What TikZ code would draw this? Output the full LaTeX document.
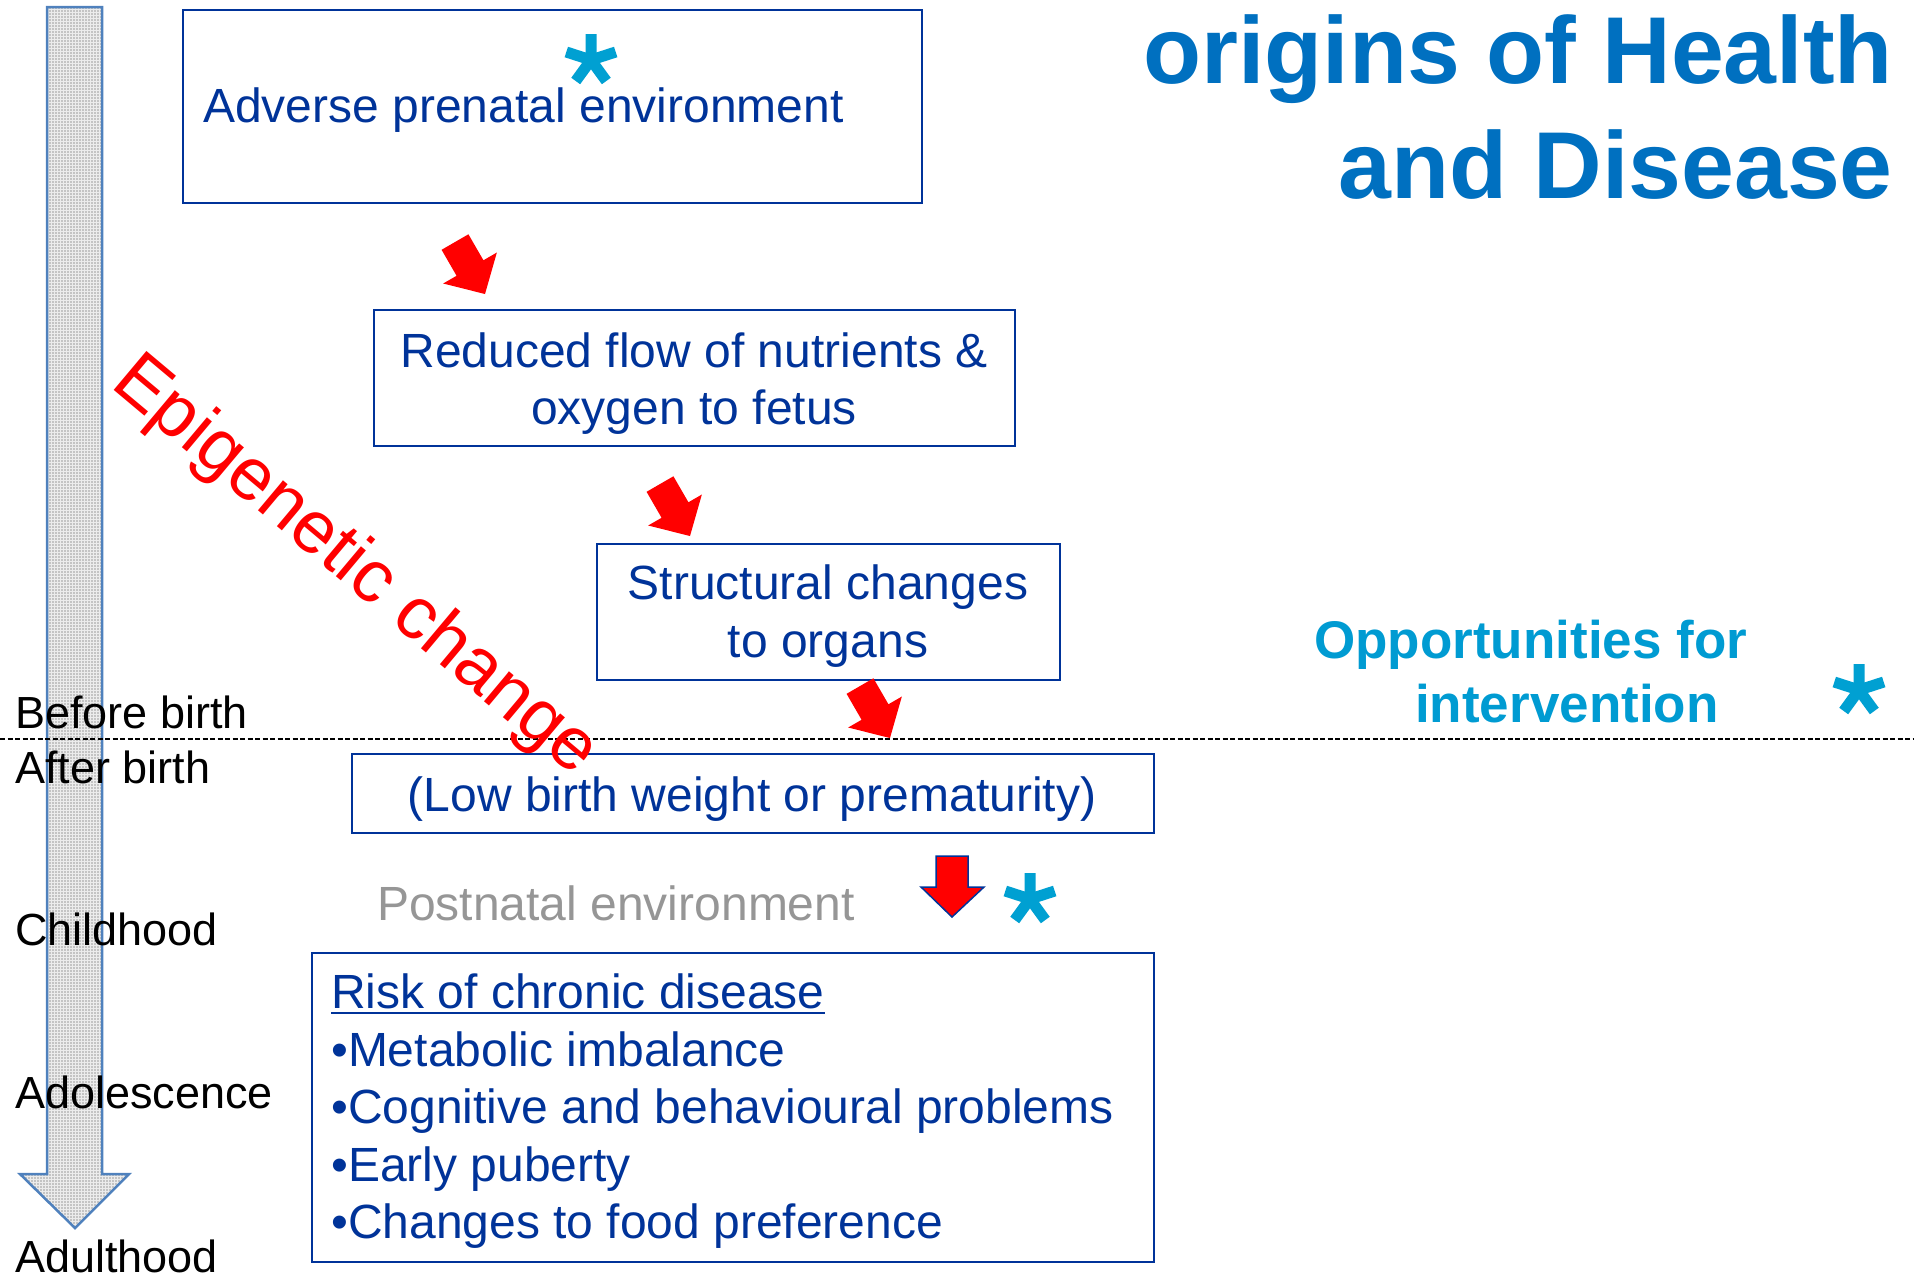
\documentclass[tikz,border=0pt]{standalone}
\usepackage{fontspec}
\setmainfont{Liberation Sans}
\usetikzlibrary{calc,patterns}
\definecolor{boxblue}{RGB}{0,51,153}
\definecolor{titleblue}{RGB}{0,112,192}
\definecolor{astcol}{RGB}{0,160,210}
\definecolor{opcol}{RGB}{0,155,210}
\definecolor{postgrey}{RGB}{150,150,150}
\definecolor{tlborder}{RGB}{79,129,189}
\definecolor{tlfill}{RGB}{196,196,196}
\newcommand{\astk}[3]{%
  \fill[astcol] (#2,#3) circle (6);
  \draw[astcol, line width=11pt] (#2,#3) -- ++(0,-26) (#2,#3) -- ++(24.7,-8)
    (#2,#3) -- ++(15.3,21) (#2,#3) -- ++(-15.3,21) (#2,#3) -- ++(-24.7,-8);
  \coordinate (#1) at (#2,#3);}
\begin{document}
\begin{tikzpicture}[x=1pt,y=-1pt,
  box/.style={draw=boxblue, line width=2pt, rectangle, inner sep=0, anchor=north west},
  boxtxt/.style={text=boxblue, font=\fontsize{48}{57.6}\selectfont, inner sep=0},
  lbl/.style={text=black, font=\fontsize{45}{54}\selectfont, inner sep=0, anchor=base west},
  titletxt/.style={text=titleblue, font=\fontsize{95}{114}\selectfont\bfseries, inner sep=0, anchor=base east},
  optxt/.style={text=opcol, font=\fontsize{53}{64}\selectfont\bfseries, inner sep=0, anchor=base west},
]
\useasboundingbox (0,0) rectangle (1918,1275);

% timeline arrow
\path[fill=tlfill]
  (47,7) -- (102,7) -- (102,1174) -- (129,1174) -- (75,1228) -- (20,1174) -- (47,1174) -- cycle;
\path[pattern=grid, pattern color=white!85!gray]
  (47,7) -- (102,7) -- (102,1174) -- (129,1174) -- (75,1228) -- (20,1174) -- (47,1174) -- cycle;
\draw[draw=tlborder, line width=2.5pt, line join=miter]
  (47,7) -- (102,7) -- (102,1174) -- (129,1174) -- (75,1228) -- (20,1174) -- (47,1174) -- cycle;

% boxes
\node[box, minimum width=739pt, minimum height=193pt] (b1) at (182,9) {};
\node[box, minimum width=641pt, minimum height=136pt] (b2) at (373,309) {};
\node[box, minimum width=463pt, minimum height=136pt] (b3) at (596,543) {};
\node[box, minimum width=802pt, minimum height=79pt] (b4) at (351,753) {};
\node[box, minimum width=842pt, minimum height=309pt] (b5) at (311,952) {};

% dashed birth line
\coordinate (dl) at (0,739);
\coordinate (dr) at (1914,739);
\draw[black, line width=1.5pt, dash pattern=on 5pt off 2.5pt] (dl) -- (dr);

% box texts
\node[boxtxt, anchor=base west] (t1) at (203,122) {Adverse prenatal environment};
\node[boxtxt, anchor=base] (t2a) at (694,367) {Reduced flow of nutrients \&};
\node[boxtxt, anchor=base] (t2b) at (694,424) {oxygen to fetus};
\node[boxtxt, anchor=base] (t3a) at (828,599) {Structural changes};
\node[boxtxt, anchor=base] (t3b) at (828,657) {to organs};
\node[boxtxt, anchor=base] (t4) at (752,811) {(Low birth weight or prematurity)};
\node[boxtxt, anchor=base west, text=postgrey] (post) at (377,920) {Postnatal environment};
\node[boxtxt, anchor=base west] (risk) at (331,1008) {Risk of chronic disease};
\draw[boxblue, line width=2.5pt] ([yshift=-5pt]risk.base west) -- ([yshift=-5pt]risk.base east);
\node[boxtxt, anchor=base west] (r1) at (331,1066) {•Metabolic imbalance};
\node[boxtxt, anchor=base west] (r2) at (331,1123) {•Cognitive and behavioural problems};
\node[boxtxt, anchor=base west] (r3) at (331,1181) {•Early puberty};
\node[boxtxt, anchor=base west] (r4) at (331,1238) {•Changes to food preference};

% slanted red arrows
\foreach \tx/\ty in {485/294, 690/536, 890/738}{
  \begin{scope}[shift={(\tx,\ty)}, rotate=30]
    \fill[red] (-15.5,-60) -- (15.5,-60) -- (15.5,-30) -- (31,-30) -- (0,0) -- (-31,-30) -- (-15.5,-30) -- cycle;
  \end{scope}
}
% postnatal down arrow
\draw[fill=red, draw=boxblue, line width=1.5pt, line join=miter]
  (936,856) -- (968,856) -- (968,887) -- (984,887) -- (952,917) -- (921,887) -- (936,887) -- cycle;

% asterisks
\astk{a1}{591}{60}
\astk{a2}{1030}{899}
\astk{a3}{1859}{690}

% title
\node[titletxt] (title1) at (1893,83) {origins of Health};
\node[titletxt] (title2) at (1893,198) {and Disease};

% opportunities
\node[optxt] (op1) at (1314,658) {Opportunities for};
\node[optxt] (op2) at (1415,722) {intervention};

% left labels
\node[lbl] (l1) at (15,728) {Before birth};
\node[lbl] (l2) at (15,783) {After birth};
\node[lbl] (l3) at (15,945) {Childhood};
\node[lbl] (l4) at (15,1108) {Adolescence};
\node[lbl] (l5) at (15,1272) {Adulthood};

% epigenetic change
\node[text=red, font=\fontsize{74}{89}\selectfont, inner sep=0, anchor=base west, rotate=-40] (epi) at (109,386) {Epigenetic change};
\end{tikzpicture}
\end{document}
